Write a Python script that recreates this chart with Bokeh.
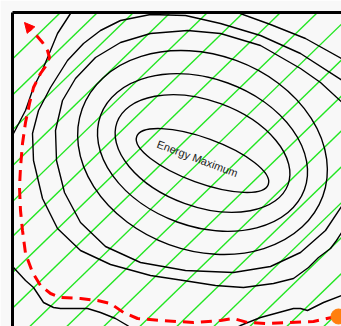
from bokeh.plotting import figure
from bokeh.models import Range1d, Arrow, NormalHead, FixedTicker
from bokeh.embed import file_html
from bokeh.resources import INLINE
from bokeh.core.properties import value
import numpy as np

# ---- data (pixel-like plot units, y grows downward) ----
# inner contour ellipses (inner -> outer)
ell_cx = [202, 202, 202, 202]
ell_cy = [160, 153, 152, 152]
ell_w = [140, 182, 217, 256]
ell_h = [45, 106, 148, 196]
ell_tilt_deg = [20, 20, 20, 20]

# 5th contour
c5_x = [345, 320, 300, 260, 220, 187, 150, 120, 95, 75, 62, 55, 56, 64, 80, 105, 140, 185, 233, 270, 300, 325, 345]
c5_y = [105, 82, 68, 45, 33, 30, 33, 42, 57, 78, 100, 130, 160, 192, 222, 246, 262, 270, 272, 266, 252, 230, 200]

# 6th contour
c6_x = [345, 300, 260, 220, 185, 150, 120, 100, 83, 67, 50, 38, 32, 33, 42, 57, 80, 110, 150, 183, 215, 243, 273, 293, 308, 318, 330, 336, 345]
c6_y = [82, 53, 35, 23, 15, 14, 20, 30, 43, 60, 87, 110, 133, 160, 198, 228, 250, 264, 275, 280, 285, 287, 283, 278, 267, 257, 248, 240, 226]

# outermost contour, four visible pieces
c7a_x = [74, 70, 57, 43, 33, 25, 13, 6]
c7a_y = [5, 13, 33, 67, 87, 110, 133, 145]
c7b_x = [5, 13, 25, 33, 43, 53, 60, 87, 100, 115, 127, 135]
c7b_y = [260, 267, 280, 287, 302, 307, 308, 308, 312, 318, 325, 332]
c7c_x = [225, 240, 260, 293, 300, 307, 323, 341, 350]
c7c_y = [333, 325, 317, 308, 308, 310, 302, 295, 290]
c7d_x = [225, 237, 270, 305, 341, 350]
c7d_y = [6, 12, 24, 38, 58, 64]

# parallel green lines: where each one meets the top edge, and their slope
green_top_x = [60, 97, 133, 170, 207, 243, 280, 317, 353, 390, 427, 463, 500, 537, 573, 610, 647]
green_slope = 0.97
top_edge = 12

# red dashed path, from the orange start point to the arrow tip
path_x = [336, 313, 290, 267, 247, 233, 220, 193, 160, 137, 123, 110, 97, 80, 60, 50, 40, 32, 25, 22, 20, 19, 20, 22, 25, 29, 33, 40, 45, 49, 47, 42, 36, 30]
path_y = [316, 321, 322, 323, 322, 318, 320, 322, 320, 318, 312, 303, 300, 298, 297, 293, 285, 272, 253, 230, 210, 187, 167, 143, 122, 103, 87, 73, 66, 57, 50, 42, 35, 29]
arrow_tip = (24, 22)

start_x = [338]
start_y = [316]

label_x = [197]
label_y = [158]
label_text = ["Energy Maximum"]

# ---- figure ----
p = figure(width=341, height=326, x_range=Range1d(12, 341), y_range=Range1d(326, 12),
           output_backend="svg", toolbar_location=None, x_axis_location="above",
           min_border_left=12, min_border_top=12, min_border_right=0, min_border_bottom=0)
p.background_fill_color = "#f8f8f8"
p.border_fill_color = "#f8f8f8"
p.outline_line_color = None
p.grid.visible = False
for ax in (p.xaxis[0], p.yaxis[0]):
    ax.ticker = FixedTicker(ticks=[])
    ax.axis_line_width = 3
    ax.axis_line_color = "black"
    ax.major_tick_line_color = None
    ax.minor_tick_line_color = None
    ax.major_tick_in = 0
    ax.major_tick_out = 0
    ax.minor_tick_in = 0
    ax.minor_tick_out = 0
    ax.major_label_standoff = 0

# green lines
gx0 = [-50 for _ in green_top_x]
gy0 = [top_edge + green_slope * (t - (-50)) for t in green_top_x]
gx1 = [700 for _ in green_top_x]
gy1 = [top_edge + green_slope * (t - 700) for t in green_top_x]
p.segment(gx0, gy0, gx1, gy1, line_color="#22e622", line_width=1.4)

# contours
p.ellipse(x=ell_cx, y=ell_cy, width=ell_w, height=ell_h,
          angle=[-np.deg2rad(a) for a in ell_tilt_deg],
          fill_color=None, line_color="black", line_width=1.4)
p.multi_line([c5_x, c6_x, c7a_x, c7b_x, c7c_x, c7d_x],
             [c5_y, c6_y, c7a_y, c7b_y, c7c_y, c7d_y],
             line_color="black", line_width=1.4)

# label
p.text(x=label_x, y=label_y, text=label_text, angle=-0.36,
       text_align="center", text_baseline="middle",
       text_font=value("Liberation Sans"), text_font_size="11px", text_color="#222222")

# path
p.line(path_x, path_y, line_color="red", line_width=3, line_dash="11 7")
p.add_layout(Arrow(end=NormalHead(size=10, fill_color="red", line_color="red", line_width=1),
                   x_start=path_x[-1], y_start=path_y[-1], x_end=arrow_tip[0], y_end=arrow_tip[1],
                   line_alpha=0))
p.scatter(start_x, start_y, size=15, color="#ff7f0e")

html = file_html(p, INLINE)
html = html.replace("<body>", '<body style="background-color:#f8f8f8;">', 1)
open("out.html", "w").write(html)
